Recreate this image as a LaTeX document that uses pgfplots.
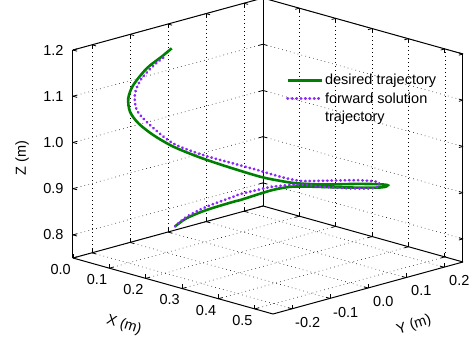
\documentclass[border=0pt]{standalone}
\usepackage{pgfplots}
\pgfplotsset{compat=1.18}
\usepackage{fontspec}
\setmainfont{Liberation Sans}
\definecolor{dgreen}{RGB}{0,128,0}
\definecolor{vio}{RGB}{140,40,250}
\begin{document}
\begin{tikzpicture}
\begin{axis}[
  x={(363.6pt,-101.8pt)}, y={(380pt,104pt)}, z={(0pt,462.2pt)},
  xmin=0, xmax=0.55, ymin=-0.25, ymax=0.25, zmin=0.75, zmax=1.2,
  xtick={0,0.1,0.2,0.3,0.4,0.5}, xticklabels={0.0,0.1,0.2,0.3,0.4,0.5},
  ytick={-0.2,-0.1,0,0.1,0.2}, yticklabels={-0.2,-0.1,0.0,0.1,0.2},
  ztick={0.8,0.9,1.0,1.1,1.2}, zticklabels={0.8,0.9,1.0,1.1,1.2},
  xticklabel style={xshift=-6pt, yshift=-3pt, inner sep=1.5pt},
  yticklabel style={xshift=9pt, yshift=-5pt, inner sep=1.5pt},
  zticklabel style={xshift=-6pt},
  grid=major,
  major grid style={black, line width=0.6pt, dash pattern=on 0.6pt off 3.4pt},
  axis line style={black, line width=1pt},
  tick style={black, line width=0.8pt},
  font=\fontsize{14.5}{17}\selectfont,
  xlabel={X (m)}, ylabel={Y (m)}, zlabel={Z (m)},
  xlabel style={at={([xshift=51pt,yshift=-67pt]rel axis cs:0,0,0)}, anchor=center, rotate=-18, inner sep=1pt},
  ylabel style={at={([xshift=341pt,yshift=-67pt]rel axis cs:0,0,0)}, anchor=center, rotate=18, inner sep=1pt},
  zlabel style={at={([xshift=-51pt]rel axis cs:0,0,0.48)}, anchor=center},
  clip=false,
  legend style={draw=none, fill=none, at={([xshift=212pt,yshift=187pt]rel axis cs:0,0,0)}, anchor=north west,
    font=\fontsize{14.5}{17}\selectfont, inner sep=1pt, row sep=2.5pt},
  legend cell align=left,
  legend image code/.code={\draw[#1] (0pt,0pt) -- (34pt,0pt);},
]
\coordinate (A) at (rel axis cs:0,0,0);
\addplot3[dgreen, line width=2.6pt, smooth] coordinates {
(0.151,-0.1347,1.211) (0.1396,-0.150,1.194) (0.1225,-0.173,1.170) (0.1072,-0.194,1.135)
(0.1015,-0.2016,1.107) (0.1034,-0.199,1.078) (0.1129,-0.186,1.052) (0.130,-0.163,1.025)
(0.1528,-0.132,0.998) (0.1833,-0.091,0.972) (0.2137,-0.050,0.950) (0.2517,0.001,0.925)
(0.2745,0.032,0.914) (0.2936,0.058,0.907) (0.3236,0.098,0.902) (0.3620,0.150,0.900)
(0.3886,0.186,0.897) (0.3977,0.198,0.894) (0.3886,0.186,0.890) (0.3429,0.1245,0.894)
(0.3049,0.073,0.899) (0.2859,0.0475,0.900) (0.2665,0.021,0.895) (0.2479,-0.004,0.886)
(0.2288,-0.029,0.876) (0.2212,-0.040,0.873) (0.1909,-0.081,0.858) (0.1680,-0.112,0.842)
(0.1547,-0.130,0.825)
};
\addlegendentry{desired trajectory}
\addplot3[vio, line width=2.8pt, line cap=round, dash pattern=on 0.4pt off 4pt, smooth] coordinates {
(0.1414,-0.1477,1.1915) (0.1319,-0.1604,1.178) (0.1168,-0.181,1.149) (0.1091,-0.1912,1.117)
(0.1111,-0.1887,1.081) (0.1262,-0.1681,1.047) (0.1528,-0.1323,1.005) (0.1871,-0.0861,0.977)
(0.2212,-0.0398,0.956) (0.2479,-0.0038,0.940) (0.2745,0.0321,0.923) (0.2973,0.0629,0.912)
(0.3236,0.0983,0.910) (0.3620,0.1502,0.908) (0.3852,0.1806,0.903) (0.3874,0.1846,0.8955)
(0.3806,0.1753,0.889) (0.3544,0.1398,0.891) (0.3236,0.0983,0.897) (0.2973,0.0629,0.904)
(0.2665,0.0213,0.902) (0.2479,-0.0038,0.896) (0.2288,-0.0294,0.889) (0.2212,-0.0398,0.884)
(0.1909,-0.0808,0.865) (0.1680,-0.1115,0.845) (0.1547,-0.130,0.825)
};
\addlegendentry{forward solution}
\addlegendimage{empty legend}
\addlegendentry{trajectory}
\end{axis}
\pgfresetboundingbox
\path[use as bounding box] ([xshift=-73pt,yshift=-80pt]A) rectangle ([xshift=401pt,yshift=258pt]A);
\end{tikzpicture}
\end{document}
